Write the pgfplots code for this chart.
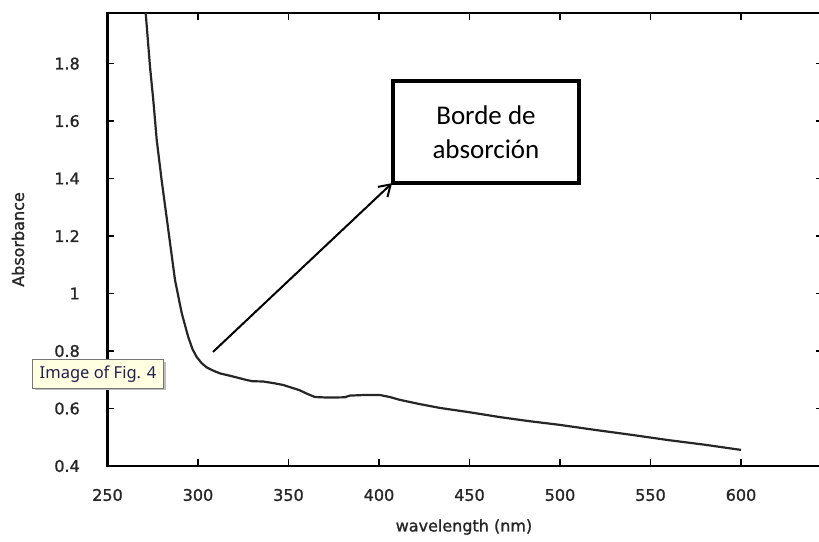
\documentclass[border=0pt]{standalone}
\usepackage{pgfplots}
\pgfplotsset{compat=1.18}
\usepackage{fontspec}
\setmainfont{DejaVu Sans}[BoldFont={DejaVu Sans}, BoldFeatures={FakeBold=1.3}]
\newfontfamily\carlito{Carlito}
\newfontfamily\tipfont{Noto Sans}
\usetikzlibrary{arrows.meta}
\definecolor{tipfill}{RGB}{255,255,225}
\definecolor{tipborder}{RGB}{118,118,118}
\definecolor{tiptext}{RGB}{35,30,80}
\begin{document}
\begin{tikzpicture}[x=1pt,y=1pt]
\useasboundingbox (-107.5,-75) rectangle (711.5,466);
\begin{axis}[
  scale only axis,
  width=715.5pt, height=453pt,
  at={(0,0)}, anchor=south west,
  xmin=250, xmax=645.3,
  ymin=0.4, ymax=1.976,
  xtick={250,300,350,400,450,500,550,600},
  ytick={0.4,0.6,0.8,1,1.2,1.4,1.6,1.8},
  tick align=inside,
  major tick length=7pt,
  every tick/.style={black, line width=1.6pt},
  axis line style={black, line width=2.2pt},
  /pgf/number format/assume math mode=true,
  ticklabel style={font=\bfseries\fontsize{16}{19}\selectfont, text=black!85},
  xticklabel style={anchor=center, inner sep=0pt, yshift=-29pt},
  yticklabel style={anchor=east, inner sep=0pt, xshift=-27.5pt},
  xlabel={wavelength (nm)},
  ylabel={Absorbance},
  label style={font=\bfseries\fontsize{16}{19}\selectfont, text=black!85},
  xlabel style={at={(axis description cs:0.4982,-0.1347)}, anchor=center},
  ylabel style={at={(axis description cs:-0.1251,0.5)}, anchor=center},
  clip=false,
]
\addplot[line width=2.2pt, color=black!85] coordinates {
(271.1,1.976) (273.5,1.788) (275.3,1.673) (277.2,1.534) (279.9,1.395)
(283.6,1.221) (287.3,1.047) (291.0,0.932) (294.6,0.849) (297,0.806)
(299.3,0.779) (302,0.758) (304.8,0.743) (308.3,0.732) (312.2,0.722)
(317.7,0.714) (322,0.707) (327,0.699) (330,0.695) (336,0.694)
(342,0.688) (347,0.682) (352,0.672) (356,0.664) (360,0.652)
(364.6,0.640) (372,0.638) (381,0.639) (384,0.645) (392,0.647)
(400.5,0.647) (406,0.640) (411.6,0.630) (422,0.616) (433.7,0.602)
(450,0.587) (466.9,0.570) (483,0.556) (500,0.543) (520,0.525)
(540,0.508) (560,0.490) (580,0.474) (600,0.456)
};
\draw[line width=2pt, -{Straight Barb[length=11pt, width=14pt, line width=2pt]}]
  (axis cs:308.3,0.797) -- (axis cs:407.2,1.384);
\draw[line width=4pt, fill=white] (axis cs:407.7,1.384) rectangle (axis cs:510.5,1.739);
\node[align=center, font=\carlito\fontsize{27}{34}\selectfont, text=black]
  at (axis cs:459.1,1.5615) {Borde de\\absorción};
\end{axis}
\fill[black!25] (-72,76) rectangle (58,104);
\draw[tipborder, fill=tipfill, line width=1pt] (-74.5,78) rectangle (55.5,106);
\node[font=\tipfont\fontsize{16.5}{19}\selectfont, text=tiptext, anchor=center]
  at (-9.5,92) {Image of Fig. 4};
\end{tikzpicture}
\end{document}
